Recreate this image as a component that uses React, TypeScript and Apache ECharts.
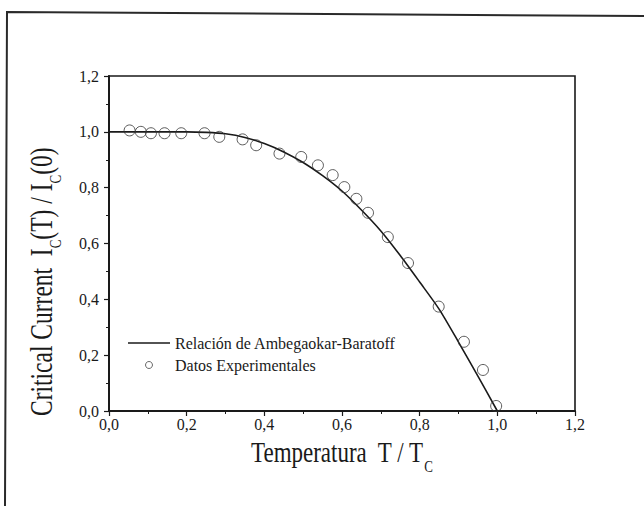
import React, { useEffect, useRef } from "react";
import * as echarts from "echarts";

// Reduced temperature T/Tc and normalised critical current Ic(T)/Ic(0)
const tempExp = [0.053, 0.082, 0.108, 0.143, 0.186, 0.246, 0.284, 0.344, 0.379, 0.439, 0.495, 0.538, 0.576, 0.606, 0.637, 0.667, 0.718, 0.77, 0.849, 0.914, 0.963, 0.997];
const currentExp = [1.005, 1.0, 0.995, 0.995, 0.995, 0.995, 0.982, 0.973, 0.952, 0.922, 0.91, 0.88, 0.845, 0.802, 0.76, 0.71, 0.623, 0.53, 0.374, 0.248, 0.147, 0.018];

// Ambegaokar-Baratoff curve, sampled
const tempTheory = [0, 0.05, 0.1, 0.15, 0.2, 0.25, 0.3, 0.35, 0.4, 0.45, 0.5, 0.55, 0.6, 0.65, 0.7, 0.75, 0.8, 0.85, 0.9, 0.95, 1.0];
const currentTheory = [1.0, 1.0, 1.0, 1.0, 1.0, 0.998, 0.993, 0.98, 0.958, 0.928, 0.89, 0.843, 0.788, 0.72, 0.645, 0.557, 0.462, 0.365, 0.247, 0.125, 0.0];

const seriesNames = ["Relación de Ambegaokar-Baratoff", "Datos Experimentales"];
const xTitle = "{m|Temperatura  T / T}{s|C}";
const yTitle = "{m|Critical Current  I}{s|C}{m|(T) / I}{s|C}{m|(0)}";

const SERIF = "Liberation Serif";
const INK = "#1a1a1a";

const titleRich = {
  m: { fontFamily: SERIF, fontSize: 23, lineHeight: 24, verticalAlign: "top", fill: INK },
  s: { fontFamily: SERIF, fontSize: 13, lineHeight: 14, verticalAlign: "top", padding: [16, 0, 0, 0], fill: INK },
};

const yTitleRich = {
  m: { ...titleRich.m, fontSize: 23.5 },
  s: titleRich.s,
};

const fmt = (v: number) => v.toFixed(1).replace(".", ",");

export default function App() {
  const ref = useRef<HTMLDivElement>(null);

  useEffect(() => {
    if (!ref.current) return;
    const chart = echarts.init(ref.current, null, { renderer: "svg" });

    const axisCommon = {
      type: "value" as const,
      min: 0,
      max: 1.2,
      interval: 0.2,
      axisLine: { show: true, lineStyle: { color: INK, width: 2 } },
      axisTick: { show: true, inside: false, length: 5, lineStyle: { color: INK, width: 1.2 } },
      minorTick: { show: true, splitNumber: 2, length: 3, lineStyle: { color: INK, width: 1 } },
      splitLine: { show: false },
      axisLabel: { formatter: fmt, fontFamily: SERIF, fontSize: 16, color: INK },
    };

    chart.setOption({
      animation: false,
      backgroundColor: "#ffffff",
      grid: {
        left: 109,
        right: 69,
        top: 76,
        bottom: 95,
        show: true,
        borderColor: INK,
        borderWidth: 1.6,
        backgroundColor: "transparent",
      },
      xAxis: { ...axisCommon, axisLabel: { ...axisCommon.axisLabel, margin: 5 } },
      yAxis: { ...axisCommon, axisLabel: { ...axisCommon.axisLabel, margin: 10 } },
      legend: {
        orient: "vertical",
        left: 128,
        top: 335,
        padding: 0,
        itemWidth: 42,
        itemHeight: 7,
        itemGap: 6,
        textStyle: { fontFamily: SERIF, fontSize: 16, color: INK },
        data: [
          { name: seriesNames[0], icon: "path://M0,0H40V1.6H0Z", itemStyle: { color: INK, borderWidth: 0 } },
          { name: seriesNames[1], icon: "circle", itemStyle: { color: "transparent", borderColor: "#444", borderWidth: 1 } },
        ],
      },
      series: [
        {
          name: seriesNames[0],
          type: "line",
          data: tempTheory.map((t, i) => [t, currentTheory[i]]),
          symbol: "none",
          showSymbol: false,
          smooth: 0.25,
          lineStyle: { color: INK, width: 1.6 },
          itemStyle: { color: INK },
          z: 2,
        },
        {
          name: seriesNames[1],
          type: "scatter",
          data: tempExp.map((t, i) => [t, currentExp[i]]),
          symbol: "circle",
          symbolSize: 11,
          itemStyle: { color: "transparent", borderColor: "#333", borderWidth: 1 },
          z: 3,
        },
      ],
      graphic: [
        {
          type: "polyline",
          silent: true,
          shape: { points: [[5, 506], [7, 12], [644, 16]] },
          style: { stroke: "#2a2a2a", lineWidth: 2, fill: "none" },
        },
        {
          type: "text",
          silent: true,
          x: 251,
          y: 437,
          scaleY: 1.3,
          style: { text: xTitle, rich: titleRich, fill: INK },
        },
        {
          type: "text",
          silent: true,
          x: 26,
          y: 416,
          rotation: Math.PI / 2,
          scaleY: 1.3,
          style: { text: yTitle, rich: yTitleRich, fill: INK },
        },
      ],
    });

    return () => chart.dispose();
  }, []);

  return (
    <div
      ref={ref}
      style={{ position: "absolute", left: 0, top: 0, width: 644, height: 506, background: "#fff" }}
    />
  );
}
